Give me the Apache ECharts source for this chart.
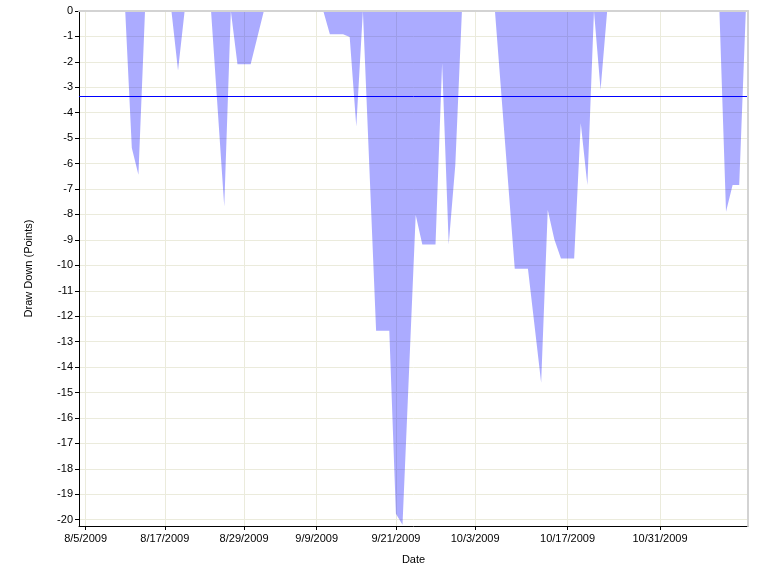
<!DOCTYPE html>
<html><head><meta charset="utf-8">
<script src="https://cdn.jsdelivr.net/npm/echarts@6/dist/echarts.min.js"></script>
<style>html,body{margin:0;padding:0;background:#fff}#c{width:764px;height:575px}</style>
</head><body><div id="c"></div>
<script>
// Drawdown data (points), daily
const dates = [
  '2009-08-04','2009-08-11','2009-08-12','2009-08-13','2009-08-14',
  '2009-08-18','2009-08-19','2009-08-20',
  '2009-08-24','2009-08-26','2009-08-27','2009-08-28','2009-08-30','2009-09-01',
  '2009-09-10','2009-09-11','2009-09-13','2009-09-14','2009-09-15','2009-09-16',
  '2009-09-18','2009-09-20','2009-09-21','2009-09-22','2009-09-24','2009-09-25',
  '2009-09-27','2009-09-28','2009-09-29','2009-09-30','2009-10-01',
  '2009-10-06','2009-10-09','2009-10-11','2009-10-13','2009-10-14','2009-10-15',
  '2009-10-16','2009-10-18','2009-10-19','2009-10-20','2009-10-21','2009-10-22','2009-10-23',
  '2009-11-09','2009-11-10','2009-11-11','2009-11-12','2009-11-13'
];
const drawdown = [
  0, 0, -5.39, -6.44, 0,
  0, -2.34, 0,
  0, -7.69, 0, -2.09, -2.09, 0,
  0, -0.91, -0.91, -1.02, -4.54, 0,
  -12.57, -12.57, -19.77, -20.2, -8.02, -9.18,
  -9.18, -2.05, -9.18, -6.05, 0,
  0, -10.13, -10.13, -14.62, -7.82, -8.98,
  -9.73, -9.73, -4.41, -6.84, 0, -3.10, 0,
  0, -7.89, -6.84, -6.84, 0
];
const meanDrawdown = -3.34;
const tickDates = ['2009-08-05','2009-08-17','2009-08-29','2009-09-09','2009-09-21','2009-10-03','2009-10-17','2009-10-31'];
const yTicks = [0,-1,-2,-3,-4,-5,-6,-7,-8,-9,-10,-11,-12,-13,-14,-15,-16,-17,-18,-19,-20];
const axisStartDate = '2009-08-04';

const DAY = 86400000;
const BASE = Date.UTC(2009, 7, 5);
function dayNum(s) {
  const p = s.split('-').map(Number);
  return (Date.UTC(p[0], p[1] - 1, p[2]) - BASE) / DAY;
}
function fmtDay(v) {
  const dt = new Date(BASE + Math.round(v) * DAY);
  return (dt.getUTCMonth() + 1) + '/' + dt.getUTCDate() + '/' + dt.getUTCFullYear();
}
const xTicks = tickDates.map(dayNum);
const seriesData = dates.map((d, i) => [dayNum(d), drawdown[i]]);

const font = "'Liberation Sans', Arial, sans-serif";
const chart = echarts.init(document.getElementById('c'));
chart.setOption({
  animation: false,
  backgroundColor: '#ffffff',
  grid: { left: 79, right: 16, top: 11, bottom: 49, containLabel: false },
  xAxis: [{
    type: 'value',
    position: 'bottom',
    min: dayNum(axisStartDate),
    max: 100.33,
    name: 'Date',
    nameLocation: 'middle',
    nameGap: 28,
    nameTextStyle: { color: '#000', fontSize: 11, fontFamily: font },
    axisLine: { show: true, onZero: false, lineStyle: { color: '#000', width: 1 } },
    axisTick: { show: true, inside: false, customValues: xTicks, length: 4, lineStyle: { color: '#000' } },
    axisLabel: { customValues: xTicks, formatter: fmtDay, color: '#000', fontSize: 11, fontFamily: font, margin: 7 },
    splitLine: { show: true, lineStyle: { color: '#EBEBDC', width: 1 } }
  }, {
    type: 'value', position: 'top', z: 5,
    axisLine: { show: true, onZero: false, lineStyle: { color: '#D3D3D3', width: 2 } },
    axisTick: { show: false }, axisLabel: { show: false }, splitLine: { show: false }
  }],
  yAxis: [{
    type: 'value',
    position: 'left',
    min: -20.25,
    max: 0,
    name: 'Draw Down (Points)',
    nameLocation: 'middle',
    nameGap: 45,
    nameMoveOverlap: false,
    nameTextStyle: { color: '#000', fontSize: 11, fontFamily: font },
    axisLine: { show: true, onZero: false, lineStyle: { color: '#000', width: 1 } },
    axisTick: { show: true, inside: false, customValues: yTicks, length: 4, lineStyle: { color: '#000' } },
    axisLabel: { customValues: yTicks, color: '#000', fontSize: 11, fontFamily: font, margin: 6 },
    splitLine: { show: true, lineStyle: { color: '#EBEBDC', width: 1 } }
  }, {
    type: 'value', position: 'right', z: 5,
    axisLine: { show: true, onZero: false, lineStyle: { color: '#D3D3D3', width: 2 } },
    axisTick: { show: false }, axisLabel: { show: false }, splitLine: { show: false }
  }],
  series: [{
    type: 'line',
    data: seriesData,
    symbol: 'none',
    lineStyle: { width: 0 },
    areaStyle: { color: 'rgba(0,0,255,0.33)', opacity: 1 },
    markLine: {
      silent: true,
      symbol: 'none',
      label: { show: false },
      lineStyle: { color: '#0000FF', width: 1, type: 'solid' },
      data: [{ yAxis: meanDrawdown }]
    }
  }]
});
</script>
</body></html>
